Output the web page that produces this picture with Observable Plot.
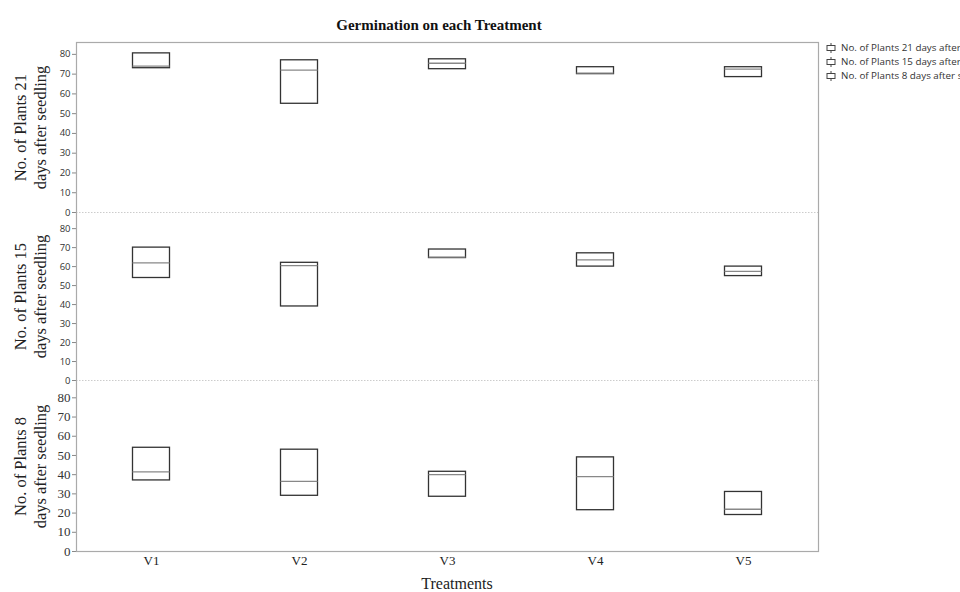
<!DOCTYPE html>
<html>
<head>
<meta charset="utf-8">
<script src="https://cdn.jsdelivr.net/npm/d3@7"></script>
<script src="https://cdn.jsdelivr.net/npm/@observablehq/plot@0.6"></script>
<style>
  html, body { margin: 0; padding: 0; background: white; overflow: hidden; }
  #wrap { position: relative; width: 960px; height: 592px; overflow: hidden; }
  #wrap svg.panel { position: absolute; left: 0; top: 0; background: transparent; }
  .title { position: absolute; left: 0; width: 878px; top: 15px; text-align: center;
    font-family: "Liberation Serif", serif; font-weight: bold; font-size: 15px; line-height: 20px; color: #111; }
  .xtitle { position: absolute; left: 0; width: 914px; top: 574px; text-align: center;
    font-family: "Liberation Serif", serif; font-size: 16px; line-height: 20px; color: #222; }
  .legend { position: absolute; left: 826px; top: 41px; font-family: "Open Sans", sans-serif;
    font-size: 9.8px; color: #333; white-space: nowrap; }
  .legend div { height: 14px; line-height: 14px; display: flex; align-items: center; }
  .legend svg { margin-right: 5px; }
</style>
</head>
<body>
<div id="wrap">
  <div class="title">Germination on each Treatment</div>
  <div class="xtitle">Treatments</div>
  <div class="legend" id="legend"></div>
</div>
<script>
// ---- data ----
const treatments = ["V1", "V2", "V3", "V4", "V5"];
const panelKeys = ["21", "15", "8"];
const panelLabels = [
  "No. of Plants 21\ndays after seedling",
  "No. of Plants 15\ndays after seedling",
  "No. of Plants 8\ndays after seedling"
];
const legendLabels = [
  "No. of Plants 21 days after seedling",
  "No. of Plants 15 days after seedling",
  "No. of Plants 8 days after seedling"
];
const yTicks = [0, 10, 20, 30, 40, 50, 60, 70, 80];

const q1Day21  = [73, 55, 72.5, 70, 68.5];
const medDay21 = [74, 72, 75.5, 70.5, 72.5];
const q3Day21  = [80.5, 77, 77.5, 73.5, 73.5];

const q1Day15  = [54, 39, 64.5, 60, 55];
const medDay15 = [62, 60.5, 65, 63.5, 57.5];
const q3Day15  = [70, 62, 69, 67, 60];

const q1Day8   = [37, 29, 28.5, 21.5, 19];
const medDay8  = [41.5, 36.5, 40, 39, 22];
const q3Day8   = [54, 53, 41.5, 49, 31];

const series = {
  "21": [q1Day21, medDay21, q3Day21],
  "15": [q1Day15, medDay15, q3Day15],
  "8":  [q1Day8, medDay8, q3Day8]
};

// ---- layout ----
const W = 960, H = 592, ML = 76, MR = 142;
const panelTop = [42, 212, 381];
const panelBottom = [212, 380, 551];
const panelMax = [86, 88.5, 88.5];

const wrap = document.getElementById("wrap");

panelKeys.forEach((key, i) => {
  const [q1, med, q3] = series[key];
  const rows = treatments.map((t, j) => ({t, q1: q1[j], med: med[j], q3: q3[j]}));
  const isBottom = i === panelKeys.length - 1;
  const tickFont = isBottom ? "Liberation Serif, serif" : "Open Sans, sans-serif";
  const tickSizeF = isBottom ? 13 : 9.5;
  const marks = [];
  if (!isBottom) {
    marks.push(Plot.ruleY([0], {stroke: "#ccc", strokeDasharray: "1.5,1.5"}));
  }
  marks.push(
    Plot.axisY({ticks: yTicks, tickSize: 4, tickPadding: 2, stroke: "#888",
      fontFamily: tickFont, fontSize: tickSizeF, fill: "#333", label: null}),
    Plot.barY(rows, {x: "t", y1: "q1", y2: "q3", fill: "white", stroke: "#333",
      strokeWidth: 1.3, insetLeft: 55.5, insetRight: 55.5}),
    Plot.tickY(rows, {x: "t", y: "med", stroke: "#888", strokeWidth: 1.3,
      insetLeft: 55.5, insetRight: 55.5}),
    Plot.text([panelLabels[i]], {frameAnchor: "left", textAnchor: "middle", lineAnchor: "middle",
      dx: -47, rotate: -90,
      fontFamily: "Liberation Serif, serif", fontSize: 16.5, lineHeight: 1.21, fill: "#222"})
  );
  if (isBottom) {
    marks.push(Plot.axisX({tickSize: 0, tickPadding: 4, fontFamily: "Liberation Serif, serif",
      fontSize: 13, fill: "#222", label: null}));
  }
  const svg = Plot.plot({
    width: W, height: H,
    marginLeft: ML, marginRight: MR,
    marginTop: panelTop[i], marginBottom: H - panelBottom[i],
    x: {domain: treatments, padding: 0, axis: null},
    y: {domain: [0, panelMax[i]], axis: null},
    marks
  });
  svg.classList.add("panel");
  wrap.appendChild(svg);
});

// outer frame
const frameSvg = Plot.plot({
  width: W, height: H, marginLeft: ML, marginRight: MR,
  marginTop: panelTop[0], marginBottom: H - panelBottom[2],
  marks: [Plot.frame({stroke: "#aaa", strokeWidth: 1.2})]
});
frameSvg.classList.add("panel");
wrap.appendChild(frameSvg);

// legend
const legend = document.getElementById("legend");
legendLabels.forEach(lbl => {
  const row = document.createElement("div");
  row.innerHTML = `<svg width="10" height="10" viewBox="0 0 10 10"><line x1="5" x2="5" y1="0" y2="10" stroke="#444"/><rect x="1" y="2.5" width="8" height="5" fill="white" stroke="#444"/></svg><span></span>`;
  row.querySelector("span").textContent = lbl;
  legend.appendChild(row);
});
</script>
</body>
</html>
